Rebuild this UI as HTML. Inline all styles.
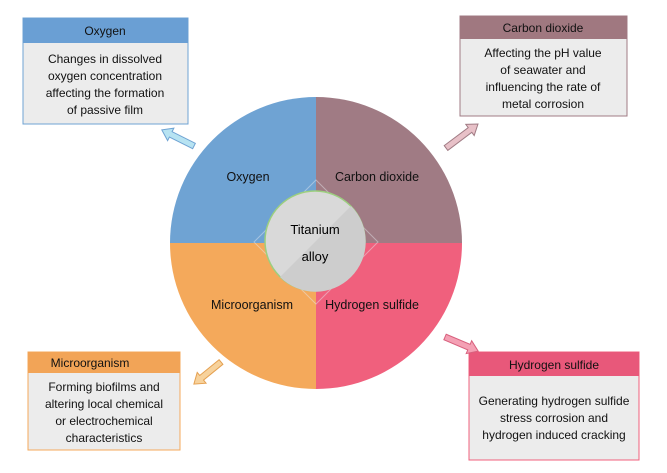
<!DOCTYPE html>
<html><head><style>
body{margin:0;background:#fff;}
svg{display:block;font-family:"Liberation Sans",Arial,sans-serif;}
</style></head><body>
<svg width="667" height="473" viewBox="0 0 667 473" xmlns="http://www.w3.org/2000/svg">
<path d="M316,243 L316,97 A146,146 0 0,0 170,243 Z" fill="#6fa3d3"/>
<path d="M316,243 L316,97 A146,146 0 0,1 462,243 Z" fill="#a07b84"/>
<path d="M316,243 L170,243 A146,146 0 0,0 316,389 Z" fill="#f4a95b"/>
<path d="M316,243 L462,243 A146,146 0 0,1 316,389 Z" fill="#f0607d"/>
<polygon points="316,180 378,242 316,304 254,242" fill="none" stroke="#e6ecf2" stroke-width="1" opacity="0.45"/>
<circle cx="315" cy="241" r="50" fill="#d9d9d9" stroke="#9ccf7f" stroke-width="1.5"/>
<path d="M351,206 A50,50 0 0,1 280,277 Z" fill="#cdcdcd"/>
<text x="315" y="234" font-size="13" text-anchor="middle">Titanium</text>
<text x="315" y="261" font-size="13" text-anchor="middle">alloy</text>
<g font-size="12.5" fill="#111" text-anchor="middle">
<text x="248" y="181">Oxygen</text>
<text x="377" y="181">Carbon dioxide</text>
<text x="252" y="309">Microorganism</text>
<text x="372" y="309">Hydrogen sulfide</text>
</g>
<g font-size="12" text-anchor="middle" fill="#111">
<rect x="23" y="18" width="165" height="106" fill="#ececec" stroke="#6fa3d3"/>
<rect x="23" y="18" width="165" height="25" fill="#6a9fd4"/>
<text x="105" y="35">Oxygen</text>
<text x="105" y="63">Changes in dissolved</text>
<text x="105" y="80">oxygen concentration</text>
<text x="105" y="97">affecting the formation</text>
<text x="105" y="114">of passive film</text>

<rect x="460" y="16" width="167" height="100" fill="#ececec" stroke="#a07b84"/>
<rect x="460" y="16" width="167" height="23" fill="#a07880"/>
<text x="543" y="32">Carbon dioxide</text>
<text x="543" y="57">Affecting the pH value</text>
<text x="543" y="74">of seawater and</text>
<text x="543" y="91">influencing the rate of</text>
<text x="543" y="108">metal corrosion</text>

<rect x="28" y="352" width="152" height="98" fill="#ececec" stroke="#f4a95b"/>
<rect x="28" y="352" width="152" height="21" fill="#f2a457"/>
<text x="90" y="367">Microorganism</text>
<text x="104" y="391">Forming biofilms and</text>
<text x="104" y="408">altering local chemical</text>
<text x="104" y="425">or electrochemical</text>
<text x="104" y="442">characteristics</text>

<rect x="469" y="352" width="170" height="108" fill="#ececec" stroke="#f0607d"/>
<rect x="469" y="352" width="170" height="24" fill="#e8587a"/>
<text x="554" y="369">Hydrogen sulfide</text>
<text x="554" y="405">Generating hydrogen sulfide</text>
<text x="554" y="422">stress corrosion and</text>
<text x="554" y="439">hydrogen induced cracking</text>
</g>
<g stroke-width="1">
<polygon transform="translate(194,146) rotate(206.6)" points="0,-3 26,-3 26,-7 36,0 26,7 26,3 0,3" fill="#b7e3f2" stroke="#6fa3d3"/>
<polygon transform="translate(446,148) rotate(-36.9)" points="0,-3 30,-3 30,-7 40,0 30,7 30,3 0,3" fill="#e8c1c8" stroke="#a07b84"/>
<polygon transform="translate(221,362) rotate(140.8)" points="0,-3 25,-3 25,-7 35,0 25,7 25,3 0,3" fill="#f7d29c" stroke="#e5a050"/>
<polygon transform="translate(445,337) rotate(23)" points="0,-3 26,-3 26,-7 36,0 26,7 26,3 0,3" fill="#f4a0b4" stroke="#d8607d"/>
</g>
</svg>
</body></html>
